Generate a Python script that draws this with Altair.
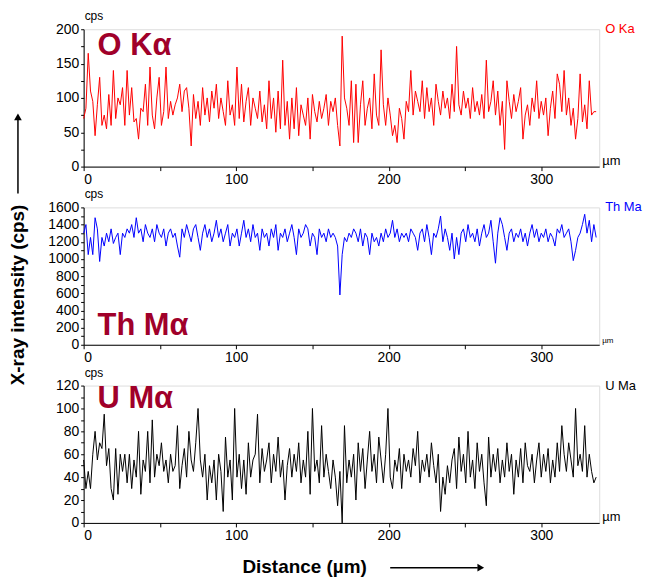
import altair as alt
import pandas as pd

STEP = 1.5  # sampling step along the line scan (µm)

o_ka = [70, 85, 165, 110, 95, 45, 90, 130, 60, 75,
        55, 105, 60, 140, 70, 100, 90, 115, 60, 140,
        75, 115, 65, 70, 40, 85, 80, 120, 60, 145,
        75, 55, 100, 130, 60, 80, 145, 70, 95, 75,
        90, 100, 120, 80, 110, 115, 85, 30, 105, 70,
        95, 60, 115, 75, 100, 65, 110, 85, 120, 70,
        100, 80, 60, 125, 75, 90, 60, 145, 70, 120,
        65, 95, 115, 60, 100, 85, 70, 110, 65, 90,
        55, 125, 70, 100, 50, 110, 55, 155, 60, 95,
        40, 100, 55, 115, 45, 90, 75, 60, 100, 40,
        105, 80, 65, 95, 70, 85, 105, 60, 95, 80,
        100, 60, 30, 190, 100, 85, 60, 125, 35, 120,
        35, 90, 125, 60, 85, 100, 55, 135, 75, 60,
        170, 90, 60, 100, 75, 45, 60, 35, 85, 70,
        40, 95, 80, 140, 75, 110, 95, 80, 125, 70,
        115, 80, 100, 60, 120, 95, 75, 110, 85, 100,
        70, 120, 80, 175, 90, 75, 110, 85, 100, 70,
        115, 80, 95, 75, 105, 70, 155, 80, 95, 125,
        75, 110, 60, 95, 25, 125, 95, 70, 105, 80,
        95, 115, 40, 75, 90, 60, 100, 80, 125, 70,
        95, 75, 100, 45, 85, 110, 70, 135, 120, 80,
        140, 75, 100, 60, 85, 40, 70, 135, 65, 90,
        55, 125, 75, 80, 80]

th_ma = [1300, 1400, 1050, 1250, 1050, 1480, 1350, 970, 1250, 1150,
         1300, 1200, 1350, 1180, 1250, 1300, 1050, 1300, 1250, 1350,
         1300, 1400, 1250, 1480, 1300, 1350, 1200, 1400, 1300, 1250,
         1350, 1200, 1400, 1300, 1250, 1350, 1150, 1300, 1350, 1250,
         1300, 1150, 1020, 1350, 1250, 1400, 1300, 1200, 1350, 1400,
         1250, 1100, 1300, 1400, 1250, 1350, 1200, 1300, 1450, 1250,
         1350, 1200, 1300, 1400, 1150, 1300, 1250, 1350, 1150, 1300,
         1450, 1250, 1350, 1200, 1400, 1250, 1300, 1100, 1350, 1250,
         1300, 1150, 1350, 1250, 1400, 1100, 1300, 1250, 1350, 1200,
         1300, 1400, 1250, 1050, 1350, 1250, 1300, 1400, 1350, 1150,
         1300, 1250, 1050, 1350, 1250, 1300, 1200, 1350, 1250, 1300,
         1250, 1150, 580, 1050, 1250, 1200, 1300, 1250, 1350, 1300,
         1200, 1350, 1150, 1300, 1250, 1050, 1300, 1200, 1250, 1150,
         1300, 1200, 1350, 1250, 1300, 1450, 1250, 1350, 1200, 1300,
         1250, 1300, 1200, 1350, 1300, 1250, 1100, 1300, 1350, 1200,
         1400, 1250, 1050, 1300, 1250, 1350, 1500, 1200, 1350, 1250,
         1100, 1300, 1000, 1250, 1050, 1300, 1350, 1200, 1400, 1250,
         1300, 1200, 1350, 1150, 1300, 1400, 1250, 1300, 1450, 1200,
         950, 1300, 1480, 1400, 1250, 1100, 1300, 1350, 1200, 1300,
         1250, 1350, 1200, 1300, 1150, 1300, 1400, 1250, 1350, 1200,
         1300, 1250, 1350, 1200, 1300, 1250, 1150, 1350, 1300, 1400,
         1250, 1300, 1350, 1200, 980, 1100, 1250, 1300, 1400, 1520,
         1300, 1450, 1200, 1400, 1250]

u_ma = [55, 30, 45, 30, 60, 80, 55, 70, 65, 95,
        50, 65, 30, 20, 65, 25, 60, 45, 60, 35,
        60, 30, 55, 40, 80, 25, 55, 45, 80, 35,
        90, 40, 60, 50, 70, 45, 55, 35, 60, 45,
        50, 85, 30, 50, 65, 40, 80, 55, 45, 70,
        100, 55, 40, 60, 20, 50, 35, 55, 20, 60,
        45, 10, 75, 40, 55, 20, 100, 40, 60, 30,
        55, 25, 70, 40, 55, 60, 95, 35, 65, 45,
        55, 70, 35, 60, 45, 75, 40, 55, 20, 50,
        65, 40, 60, 45, 70, 35, 55, 40, 80, 25,
        100, 45, 55, 35, 85, 40, 60, 45, 30, 55,
        40, 15, 45, 0, 85, 35, 55, 40, 60, 20,
        70, 45, 65, 30, 55, 80, 45, 60, 35, 75,
        55, 35, 60, 100, 40, 30, 55, 45, 65, 30,
        60, 45, 55, 40, 65, 50, 80, 35, 55, 45,
        60, 40, 70, 50, 35, 60, 10, 40, 25, 50,
        35, 55, 65, 30, 75, 45, 60, 35, 80, 40,
        55, 30, 70, 45, 60, 35, 15, 75, 40, 60,
        45, 65, 35, 55, 40, 70, 45, 60, 25, 55,
        40, 65, 35, 70, 50, 45, 60, 35, 55, 70,
        40, 60, 45, 65, 35, 55, 40, 70, 45, 85,
        60, 45, 70, 55, 40, 100, 50, 60, 45, 85,
        40, 60, 45, 35, 40]

distance = [round(i * STEP, 1) for i in range(len(o_ka))]

big_labels = ["O Kα", "Th Mα", "U Mα"]
side_labels = ["O  Ka", "Th Ma", "U  Ma"]
line_colors = ["#ff0000", "#0000ff", "#000000"]
y_max = [200, 1600, 120]
y_label_step = [50, 200, 20]
y_tick_step = [25, 100, 10]
x_ticks = [0, 50, 100, 150, 200, 250, 300]

W, H = 518, 138
FONT = "Liberation Sans"
BIG_COLOR = "#a0002a"
ONE = pd.DataFrame({"a": [0]})


def txt(s, **kw):
    return alt.Chart(pd.DataFrame({"t": [s]})).mark_text(**kw).encode(text="t:N")


def panel(k, values, big_y, um_size):
    df = pd.DataFrame({"d": distance, "v": values})
    yt = list(range(0, y_max[k] + 1, y_tick_step[k]))
    line = alt.Chart(df).mark_line(color=line_colors[k], strokeWidth=1).encode(
        x=alt.X("d:Q", scale=alt.Scale(domain=[0, 338], nice=False, zero=False),
                axis=alt.Axis(values=x_ticks, format="d", title=None,
                              labelExpr="datum.value % 100 == 0 ? datum.label : ''",
                              grid=False, tickSize=4, labelFontSize=14, labelFont=FONT,
                              labelColor="black", domainColor="black", tickColor="black",
                              labelPadding=2)),
        y=alt.Y("v:Q", scale=alt.Scale(domain=[0, y_max[k]], nice=False),
                axis=alt.Axis(values=yt, format="d", title=None,
                              labelExpr=f"datum.value % {y_label_step[k]} == 0 ? datum.label : ''",
                              grid=False, tickSize=3, labelFontSize=14, labelFont=FONT,
                              labelColor="black", domainColor="black", tickColor="black",
                              labelPadding=2)),
    )
    layers = [
        line,
        txt(big_labels[k], font=FONT, fontSize=31, fontWeight="bold", color=BIG_COLOR,
            align="left", baseline="middle").encode(x=alt.value(14), y=alt.value(big_y)),
        txt("cps", font=FONT, fontSize=12, color="black", align="left",
            baseline="alphabetic").encode(x=alt.value(1), y=alt.value(-9)),
        txt(side_labels[k], font=FONT, fontSize=13, color=line_colors[k], align="left",
            baseline="middle").encode(x=alt.value(W + 6), y=alt.value(0)),
        txt("µm", font=FONT, fontSize=um_size, color="black", align="left",
            baseline="alphabetic").encode(x=alt.value(W + 3), y=alt.value(H - 2)),
    ]
    return alt.layer(*layers).properties(width=W, height=H)


p1 = panel(0, o_ka, 17, 13)
p2 = panel(1, th_ma, 119, 8)
p3 = panel(2, u_ma, 14, 13)

p2 = alt.layer(
    p2,
    txt("X-ray intensity (cps)", font=FONT, fontSize=19, fontWeight="bold", color="black",
        angle=270, align="center", baseline="middle").encode(x=alt.value(-66), y=alt.value(88)),
    alt.Chart(ONE).mark_rule(color="black", strokeWidth=1.5).encode(
        x=alt.value(-66), y=alt.value(-14), y2=alt.value(-88)),
    alt.Chart(ONE).mark_point(shape="triangle-up", filled=True, color="black",
                              size=60, opacity=1).encode(x=alt.value(-66), y=alt.value(-91)),
)
p3 = alt.layer(
    p3,
    txt("Distance (µm)", font=FONT, fontSize=19, fontWeight="bold", color="black",
        align="center", baseline="middle").encode(x=alt.value(222), y=alt.value(182)),
    alt.Chart(ONE).mark_rule(color="black", strokeWidth=1.5).encode(
        x=alt.value(308), x2=alt.value(396), y=alt.value(183)),
    alt.Chart(ONE).mark_point(shape="triangle-right", filled=True, color="black",
                              size=60, opacity=1).encode(x=alt.value(399), y=alt.value(183)),
)

chart = alt.vconcat(p1, p2, p3, spacing=41, bounds="flush").properties(
    padding=0
).configure_view(
    stroke="black", strokeWidth=1.5
).configure(background="white")

chart.save("out.html", embed_options={"renderer": "svg", "actions": False})
